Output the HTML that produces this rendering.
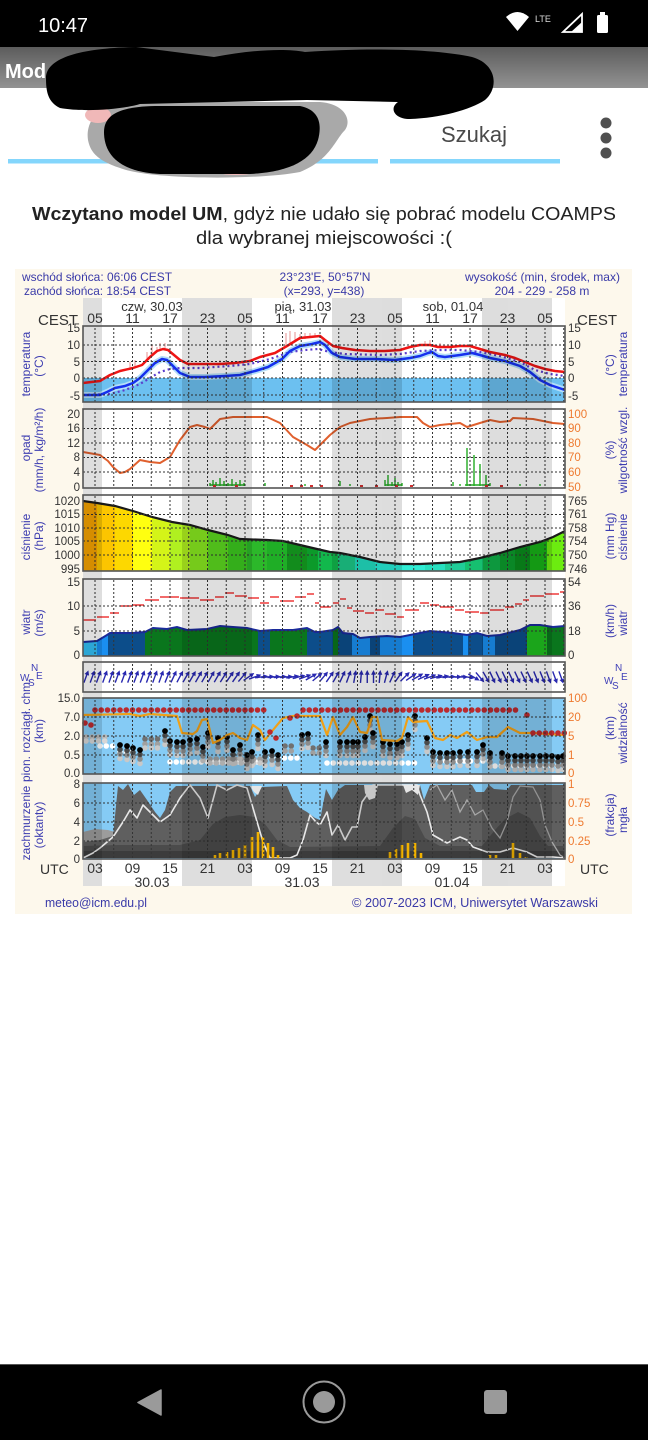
<!DOCTYPE html>
<html><head><meta charset="utf-8"><style>
html,body{margin:0;padding:0;background:#fff;width:648px;height:1440px;overflow:hidden}
svg{display:block}
text{font-family:"Liberation Sans",sans-serif}
.t{font-size:11.5px;fill:#333}
.o{font-size:11.5px;fill:#ee7a30}
.h{font-size:14px;fill:#333}
.b{font-size:12px;fill:#3c3cb0}
.c{font-size:10px;fill:#4040b8}
.hd{font-size:12px;fill:#3a3aa8}
</style></head><body>
<svg width="648" height="1440" viewBox="0 0 648 1440" xmlns="http://www.w3.org/2000/svg">
<defs>
<linearGradient id="ab" x1="0" y1="0" x2="0" y2="1"><stop offset="0" stop-color="#5c5c5c"/><stop offset="1" stop-color="#939393"/></linearGradient>
<pattern id="vg" x="94.5" y="0" width="18.75" height="4" patternUnits="userSpaceOnUse"><rect width="1" height="2" fill="#333"/></pattern>
<clipPath id="pc"><path d="M83,501 L97,503 L115,506 L133,511 L152,517 L172,522 L190,525 L208,530 L228,535 L240,539 L267,540 L283,541 L300,545 L317,549 L330,552 L340,553 L360,557 L380,562 L400,564 L420,564 L440,563 L460,562 L480,558 L500,553 L520,547 L540,542 L553,537 L565,531 L565,571 L83,571 Z"/></clipPath>
<clipPath id="wc"><path d="M83,642 L97,641 L107,635 L110,633 L133,633 L145,632 L153,628 L167,629 L177,627 L187,630 L207,629 L220,626 L233,627 L247,628 L260,631 L273,630 L293,630 L307,628 L315,632 L320,632 L333,630 L338,627 L343,633 L353,634 L360,638 L370,637 L387,636 L400,637 L420,633 L430,631 L453,633 L467,635 L477,633 L487,636 L500,635 L520,630 L530,625 L540,625 L553,627 L565,626 L565,656 L83,656 Z"/></clipPath>
<g id="ar"><path d="M0,6V-3" stroke="#2828b0" stroke-width="1.4"/><path d="M0,-7L-2.4,-2.3L2.4,-2.3Z" fill="#2828b0"/></g>
<g id="st"><circle cy="13.5" r="2.8" fill="#c8c8c8"/><circle cy="9" r="2.8" fill="#8c8c8c"/><circle cy="4.5" r="2.8" fill="#4a4a4a"/><circle r="2.9" fill="#000"/></g>
</defs>

<rect width="648" height="1440" fill="#fff"/>

<!-- status bar -->
<rect x="0" y="0" width="648" height="47" fill="#000"/>
<text x="38" y="32" font-size="20" fill="#fff">10:47</text>
<path d="M506,17 Q517.5,7 529,17 L517.5,31 Z" fill="#fff"/>
<text x="535" y="22" font-size="9" fill="#ddd">LTE</text>
<path d="M563,32 L582,32 L582,14 Z" fill="none" stroke="#fff" stroke-width="1.8"/>
<path d="M571,32 L582,32 L582,22 Z" fill="#fff"/>
<rect x="600" y="12" width="5" height="3" fill="#fff"/>
<rect x="597" y="15" width="11" height="18" rx="1.5" fill="#fff"/>

<!-- app bar -->
<rect x="0" y="47" width="648" height="41" fill="url(#ab)"/>
<text x="5" y="78" font-size="20" font-weight="bold" fill="#fff">Mod</text>

<!-- search area -->
<rect x="8" y="159" width="370" height="4.5" fill="#84d6fc"/>
<rect x="390" y="159" width="170" height="4.5" fill="#84d6fc"/>
<text x="441" y="142" font-size="22" fill="#4a4a4a">Szukaj</text>
<circle cx="606" cy="123" r="5.5" fill="#505050"/>
<circle cx="606" cy="138" r="5.5" fill="#505050"/>
<circle cx="606" cy="153" r="5.5" fill="#505050"/>

<!-- scribbles -->
<path d="M88,140 C85,120 100,104 130,102 L320,102 C345,104 352,120 345,130 C335,140 330,160 300,172 C260,180 150,180 120,168 C95,160 90,150 88,140 Z" fill="#a9a9a9"/>
<ellipse cx="98" cy="115" rx="13" ry="8" fill="#f0b8b8"/>
<ellipse cx="236" cy="170" rx="22" ry="5" fill="#f0b8b8"/>
<path d="M104,132 C104,112 125,106 160,106 L300,106 C320,110 322,125 318,140 C312,160 290,172 250,174 L160,174 C120,172 104,155 104,132 Z" fill="#000"/>
<path d="M46,78 C46,58 80,48 136,47 L214,57 C250,50 285,48 305,52 C380,47 440,50 472,57 C497,64 499,88 485,100 C470,110 440,118 410,119 C394,119 389,108 398,102 L307,100 L140,104 C120,110 82,112 60,108 C48,102 46,92 46,78 Z" fill="#000"/>

<!-- message -->
<text x="32" y="220" font-size="18" fill="#222" textLength="584" lengthAdjust="spacingAndGlyphs"><tspan font-weight="bold">Wczytano model UM</tspan>, gdyż nie udało się pobrać modelu COAMPS</text>
<text x="196" y="244" font-size="18" fill="#222" textLength="256" lengthAdjust="spacingAndGlyphs">dla wybranej miejscowości :(</text>

<!-- chart bg -->
<rect x="15" y="269" width="617" height="645" fill="#fdf8ec"/>
<rect x="83" y="298" width="482" height="588" fill="#fff"/>

<!-- header -->
<text class="hd" x="22" y="281" textLength="150" lengthAdjust="spacingAndGlyphs">wschód słońca: 06:06 CEST</text>
<text class="hd" x="24" y="295" textLength="147" lengthAdjust="spacingAndGlyphs">zachód słońca: 18:54 CEST</text>
<text class="hd" x="325" y="281" text-anchor="middle">23°23'E, 50°57'N</text>
<text class="hd" x="324" y="295" text-anchor="middle">(x=293, y=438)</text>
<text class="hd" x="465" y="281" textLength="155" lengthAdjust="spacingAndGlyphs">wysokość (min, środek, max)</text>
<text class="hd" x="542" y="295" text-anchor="middle">204 - 229 - 258 m</text>

<rect x="83" y="698" width="482" height="76" fill="#85cbf5"/>
<rect x="83" y="783" width="482" height="76" fill="#85cbf5"/>

<!-- P1 temperature -->
<rect x="83" y="378" width="482" height="24" fill="#6cc0f0"/>
<path d="M286,346V333M290,345V331M295,342V332M300,340V334M305,339V333M310,338V333M315,337V333M147,361V352M152,356V345M157,352V347M160,351V343M135,368V360M130,369V362M220,364V360M430,345V340M425,346V341M440,347V343M395,351V347M165,349V343" stroke="#e07878" stroke-width="1" opacity=".8"/>
<path d="M83,395 L100,395 L107,392 L115,388 L125,386 L133,383 L140,378 L148,370 L155,363 L162,359 L167,360 L173,366 L180,373 L190,377 L205,377 L225,376 L240,375 L255,371 L268,367 L282,359 L290,351 L300,346 L312,344 L320,342 L325,345 L332,353 L340,357 L355,359 L375,359 L395,360 L410,358 L420,356 L428,353 L432,352 L438,356 L445,357 L460,355 L472,353 L480,355 L490,358 L505,361 L520,366 L530,372 L540,380 L550,385 L565,390" fill="none" stroke="#b4def8" stroke-width="6" stroke-linejoin="round"/>
<path d="M83,395 L110,394 L125,390 L140,384 L150,378 L160,372 L170,369 L180,368 L200,368 L230,366 L250,364 L270,359 L290,352 L305,350 L318,349 L330,352 L345,354 L380,355 L400,354 L420,351 L440,350 L460,350 L480,352 L500,356 L520,362 L535,370 L550,374 L565,376" fill="none" stroke="#5a3ccc" stroke-width="2.2" stroke-dasharray="2 3"/>
<path d="M83,383 L100,381 L110,375 L120,371 L133,368 L142,365 L150,357 L157,351 L163,349 L168,350 L174,355 L180,360 L188,364 L200,364 L220,364 L235,363 L250,361 L260,357 L275,353 L287,346 L300,338 L310,337 L320,336 L325,340 L333,346 L342,348 L355,350 L370,351 L385,351 L400,350 L410,347 L420,345 L430,345 L438,347 L450,347 L460,346 L470,346 L480,349 L490,352 L505,355 L515,358 L525,362 L535,366 L545,369 L555,371 L565,372" fill="none" stroke="#ee1515" stroke-width="2.5" stroke-linejoin="round"/>
<path d="M83,395 L100,395 L107,392 L115,388 L125,386 L133,383 L140,378 L148,370 L155,363 L162,359 L167,360 L173,366 L180,373 L190,377 L205,377 L225,376 L240,375 L255,371 L268,367 L282,359 L290,351 L300,346 L312,344 L320,342 L325,345 L332,353 L340,357 L355,359 L375,359 L395,360 L410,358 L420,356 L428,353 L432,352 L438,356 L445,357 L460,355 L472,353 L480,355 L490,358 L505,361 L520,366 L530,372 L540,380 L550,385 L565,390" fill="none" stroke="#1530ee" stroke-width="2.5" stroke-linejoin="round"/>

<!-- P2 precipitation / humidity -->
<path d="M210,486V483M213,486V480M216,486V482M220,486V478M224,486V481M228,486V483M232,486V479M236,486V482M240,486V480M244,486V483M265,486V483M305,486V484M340,486V481M350,486V484M385,486V480M388,486V475M392,486V482M395,486V478M398,486V482M402,486V483M453,486V482M460,486V484M467,486V448M474,486V455M480,486V464M486,486V475M490,486V483M520,486V484M540,486V484" stroke="#22aa22" stroke-width="1.4"/>
<path d="M210,485H245M385,485H402M465,485H490" stroke="#22aa22" stroke-width="1.5"/>
<path d="M213,486H216M235,486H238M290,486H293M300,486H303M310,486H313M320,486H323M360,486H363M375,486H378M395,486H398M410,486H413M485,486H488M500,486H503" stroke="#d03030" stroke-width="2"/>
<path d="M83,452 L100,455 L108,461 L113,467 L120,473 L125,472 L130,469 L140,460 L150,462 L160,463 L170,457 L180,440 L190,427 L197,425 L205,427 L210,429 L220,419 L233,417 L253,417 L267,417 L280,423 L293,437 L307,445 L315,450 L320,445 L330,435 L340,427 L350,423 L370,419 L387,418 L400,417 L417,417 L423,423 L430,427 L440,425 L460,423 L467,427 L480,423 L490,420 L500,422 L510,421 L513,418 L533,419 L553,423 L565,424" fill="none" stroke="#e0602e" stroke-width="2" stroke-linejoin="round"/>

<!-- P3 pressure -->
<g clip-path="url(#pc)">
<rect x="83" y="495" width="14" height="76" fill="#f5a300"/>
<rect x="97" y="495" width="18" height="76" fill="#fcc500"/>
<rect x="115" y="495" width="18" height="76" fill="#fdd800"/>
<rect x="133" y="495" width="19" height="76" fill="#ffff10"/>
<rect x="152" y="495" width="18" height="76" fill="#d4f418"/>
<rect x="170" y="495" width="20" height="76" fill="#b0f020"/>
<rect x="190" y="495" width="18" height="76" fill="#88e820"/>
<rect x="208" y="495" width="20" height="76" fill="#5cd820"/>
<rect x="228" y="495" width="19" height="76" fill="#3cc820"/>
<rect x="247" y="495" width="20" height="76" fill="#2cb82a"/>
<rect x="267" y="495" width="20" height="76" fill="#1fae26"/>
<rect x="287" y="495" width="20" height="76" fill="#128c1c"/>
<rect x="307" y="495" width="11" height="76" fill="#0c9a2a"/>
<rect x="318" y="495" width="20" height="76" fill="#12b84c"/>
<rect x="338" y="495" width="17" height="76" fill="#1cc888"/>
<rect x="355" y="495" width="20" height="76" fill="#22dcc0"/>
<rect x="375" y="495" width="25" height="76" fill="#28ecd8"/>
<rect x="400" y="495" width="25" height="76" fill="#30ecd4"/>
<rect x="425" y="495" width="20" height="76" fill="#28e0c0"/>
<rect x="445" y="495" width="20" height="76" fill="#20cc98"/>
<rect x="465" y="495" width="18" height="76" fill="#16c070"/>
<rect x="483" y="495" width="17" height="76" fill="#10b048"/>
<rect x="500" y="495" width="15" height="76" fill="#0c9c2c"/>
<rect x="515" y="495" width="15" height="76" fill="#0a8c1c"/>
<rect x="530" y="495" width="17" height="76" fill="#18b018"/>
<rect x="547" y="495" width="18" height="76" fill="#6cec10"/>
</g>
<path d="M83,501 L97,503 L115,506 L133,511 L152,517 L172,522 L190,525 L208,530 L228,535 L240,539 L267,540 L283,541 L300,545 L317,549 L330,552 L340,553 L360,557 L380,562 L400,564 L420,564 L440,563 L460,562 L480,558 L500,553 L520,547 L540,542 L553,537 L565,531" fill="none" stroke="#1a1a1a" stroke-width="2.2"/>

<!-- P4 wind -->
<g clip-path="url(#wc)">
<rect x="83" y="600" width="14" height="56" fill="#33bff5"/>
<rect x="97" y="600" width="11" height="56" fill="#1a8ff0"/>
<rect x="108" y="600" width="37" height="56" fill="#0c4d8a"/>
<rect x="145" y="600" width="113" height="56" fill="#0a761d"/>
<rect x="258" y="600" width="12" height="56" fill="#0c4d8a"/>
<rect x="270" y="600" width="37" height="56" fill="#0a761d"/>
<rect x="307" y="600" width="26" height="56" fill="#0c4d8a"/>
<rect x="333" y="600" width="5" height="56" fill="#0a761d"/>
<rect x="338" y="600" width="14" height="56" fill="#0c4d8a"/>
<rect x="352" y="600" width="18" height="56" fill="#1a8ff0"/>
<rect x="370" y="600" width="10" height="56" fill="#0c4d8a"/>
<rect x="380" y="600" width="33" height="56" fill="#1a8ff0"/>
<rect x="413" y="600" width="50" height="56" fill="#0c4d8a"/>
<rect x="463" y="600" width="5" height="56" fill="#1a8ff0"/>
<rect x="468" y="600" width="15" height="56" fill="#0c4d8a"/>
<rect x="483" y="600" width="12" height="56" fill="#1a8ff0"/>
<rect x="495" y="600" width="32" height="56" fill="#0c4d8a"/>
<rect x="527" y="600" width="20" height="56" fill="#1fbe1f"/>
<rect x="547" y="600" width="18" height="56" fill="#0a761d"/>
</g>
<path d="M83,642 L97,641 L107,635 L110,633 L133,633 L145,632 L153,628 L167,629 L177,627 L187,630 L207,629 L220,626 L233,627 L247,628 L260,631 L273,630 L293,630 L307,628 L315,632 L320,632 L333,630 L338,627 L343,633 L353,634 L360,638 L370,637 L387,636 L400,637 L420,633 L430,631 L453,633 L467,635 L477,633 L487,636 L500,635 L520,630 L530,625 L540,625 L553,627 L565,626" fill="none" stroke="#1a2a9a" stroke-width="2"/>
<path d="M83,620H96M97,617H109M110,613H119M120,606H132M133,605H144M145,600H159M160,597H179M180,598H199M200,600H214M215,597H224M225,593H234M235,596H247M248,598H259M260,603H269M270,597H279M280,601H294M295,597H306M307,594H314M315,603H319M320,607H331M333,603H339M340,599H346M347,608H352M353,611H364M365,613H374M375,610H384M385,614H396M397,617H404M405,610H419M420,603H429M430,605H439M440,607H454M455,610H464M465,612H479M480,613H489M490,610H504M505,607H514M515,604H522M523,600H529M530,596H544M545,594H559M560,592H565" stroke="#ee3a3a" stroke-width="1.6" fill="none"/>

<!-- P5 wind direction -->
<use href="#ar" transform="translate(86,677) rotate(20)"/>
<use href="#ar" transform="translate(92.25,677) rotate(20)"/>
<use href="#ar" transform="translate(98.5,677) rotate(20)"/>
<use href="#ar" transform="translate(104.75,677) rotate(20)"/>
<use href="#ar" transform="translate(111,677) rotate(20)"/>
<use href="#ar" transform="translate(117.25,677) rotate(20)"/>
<use href="#ar" transform="translate(123.5,677) rotate(20)"/>
<use href="#ar" transform="translate(129.75,677) rotate(20)"/>
<use href="#ar" transform="translate(136,677) rotate(20)"/>
<use href="#ar" transform="translate(142.25,677) rotate(20)"/>
<use href="#ar" transform="translate(148.5,677) rotate(20)"/>
<use href="#ar" transform="translate(154.75,677) rotate(20)"/>
<use href="#ar" transform="translate(161,677) rotate(20)"/>
<use href="#ar" transform="translate(167.25,677) rotate(22)"/>
<use href="#ar" transform="translate(173.5,677) rotate(25)"/>
<use href="#ar" transform="translate(179.75,677) rotate(28)"/>
<use href="#ar" transform="translate(186,677) rotate(30)"/>
<use href="#ar" transform="translate(192.25,677) rotate(30)"/>
<use href="#ar" transform="translate(198.5,677) rotate(30)"/>
<use href="#ar" transform="translate(204.75,677) rotate(30)"/>
<use href="#ar" transform="translate(211,677) rotate(30)"/>
<use href="#ar" transform="translate(217.25,677) rotate(30)"/>
<use href="#ar" transform="translate(223.5,677) rotate(32)"/>
<use href="#ar" transform="translate(229.75,677) rotate(35)"/>
<use href="#ar" transform="translate(236,677) rotate(35)"/>
<use href="#ar" transform="translate(242.25,677) rotate(40)"/>
<use href="#ar" transform="translate(248.5,677) rotate(55)"/>
<use href="#ar" transform="translate(254.75,677) rotate(70)"/>
<use href="#ar" transform="translate(261,677) rotate(82)"/>
<use href="#ar" transform="translate(267.25,677) rotate(85)"/>
<use href="#ar" transform="translate(273.5,677) rotate(85)"/>
<use href="#ar" transform="translate(279.75,677) rotate(85)"/>
<use href="#ar" transform="translate(286,677) rotate(85)"/>
<use href="#ar" transform="translate(292.25,677) rotate(80)"/>
<use href="#ar" transform="translate(298.5,677) rotate(75)"/>
<use href="#ar" transform="translate(304.75,677) rotate(70)"/>
<use href="#ar" transform="translate(311,677) rotate(60)"/>
<use href="#ar" transform="translate(317.25,677) rotate(50)"/>
<use href="#ar" transform="translate(323.5,677) rotate(40)"/>
<use href="#ar" transform="translate(329.75,677) rotate(35)"/>
<use href="#ar" transform="translate(336,677) rotate(30)"/>
<use href="#ar" transform="translate(342.25,677) rotate(25)"/>
<use href="#ar" transform="translate(348.5,677) rotate(20)"/>
<use href="#ar" transform="translate(354.75,677) rotate(10)"/>
<use href="#ar" transform="translate(361,677) rotate(5)"/>
<use href="#ar" transform="translate(367.25,677) rotate(0)"/>
<use href="#ar" transform="translate(373.5,677) rotate(0)"/>
<use href="#ar" transform="translate(379.75,677) rotate(5)"/>
<use href="#ar" transform="translate(386,677) rotate(15)"/>
<use href="#ar" transform="translate(392.25,677) rotate(25)"/>
<use href="#ar" transform="translate(398.5,677) rotate(35)"/>
<use href="#ar" transform="translate(404.75,677) rotate(45)"/>
<use href="#ar" transform="translate(411,677) rotate(55)"/>
<use href="#ar" transform="translate(417.25,677) rotate(60)"/>
<use href="#ar" transform="translate(423.5,677) rotate(65)"/>
<use href="#ar" transform="translate(429.75,677) rotate(70)"/>
<use href="#ar" transform="translate(436,677) rotate(75)"/>
<use href="#ar" transform="translate(442.25,677) rotate(80)"/>
<use href="#ar" transform="translate(448.5,677) rotate(85)"/>
<use href="#ar" transform="translate(454.75,677) rotate(88)"/>
<use href="#ar" transform="translate(461,677) rotate(90)"/>
<use href="#ar" transform="translate(467.25,677) rotate(100)"/>
<use href="#ar" transform="translate(473.5,677) rotate(120)"/>
<use href="#ar" transform="translate(479.75,677) rotate(140)"/>
<use href="#ar" transform="translate(486,677) rotate(150)"/>
<use href="#ar" transform="translate(492.25,677) rotate(155)"/>
<use href="#ar" transform="translate(498.5,677) rotate(155)"/>
<use href="#ar" transform="translate(504.75,677) rotate(155)"/>
<use href="#ar" transform="translate(511,677) rotate(155)"/>
<use href="#ar" transform="translate(517.25,677) rotate(155)"/>
<use href="#ar" transform="translate(523.5,677) rotate(155)"/>
<use href="#ar" transform="translate(529.75,677) rotate(155)"/>
<use href="#ar" transform="translate(536,677) rotate(158)"/>
<use href="#ar" transform="translate(542.25,677) rotate(158)"/>
<use href="#ar" transform="translate(548.5,677) rotate(160)"/>
<use href="#ar" transform="translate(554.75,677) rotate(160)"/>
<use href="#ar" transform="translate(561,677) rotate(160)"/>

<!-- P6 clouds / visibility -->
<g fill="none" stroke-width="5.6" stroke-linecap="round" stroke-dasharray="0 6.25">
<path d="M86,737H110" stroke="#b8b8b8"/>
<path d="M86,741H110" stroke="#d6d6d6"/>
<path d="M100,746H113M120,752H135M170,762H265M272,758H300M327,763H420M433,761H490M495,766H565" stroke="#fff"/>
<path d="M145,739H160M285,746H297M313,748H320" stroke="#707070"/>
<path d="M145,744H160M285,751H297M210,759H265M313,753H320" stroke="#a0a0a0"/>
<path d="M145,748H160M210,763H265" stroke="#c8c8c8"/>
</g>
<use href="#st" x="120" y="745"/><use href="#st" x="127" y="746"/><use href="#st" x="133" y="748"/><use href="#st" x="140" y="750"/>
<use href="#st" x="165" y="731"/><use href="#st" x="170" y="741"/><use href="#st" x="177" y="742"/><use href="#st" x="183" y="742"/>
<use href="#st" x="190" y="740"/><use href="#st" x="197" y="739"/><use href="#st" x="203" y="747"/><use href="#st" x="208" y="733"/>
<use href="#st" x="218" y="738"/><use href="#st" x="227" y="737"/><use href="#st" x="233" y="750"/><use href="#st" x="240" y="745"/>
<use href="#st" x="247" y="755"/><use href="#st" x="252" y="752"/><use href="#st" x="258" y="735"/><use href="#st" x="265" y="752"/>
<use href="#st" x="272" y="751"/><use href="#st" x="278" y="755"/><use href="#st" x="302" y="735"/><use href="#st" x="308" y="734"/>
<use href="#st" x="326" y="742"/><use href="#st" x="340" y="742"/><use href="#st" x="347" y="742"/><use href="#st" x="353" y="742"/>
<use href="#st" x="358" y="742"/><use href="#st" x="365" y="737"/><use href="#st" x="370" y="716"/><use href="#st" x="373" y="733"/>
<use href="#st" x="383" y="742"/><use href="#st" x="390" y="744"/><use href="#st" x="397" y="744"/><use href="#st" x="402" y="742"/>
<use href="#st" x="408" y="735"/><use href="#st" x="415" y="716"/><use href="#st" x="427" y="738"/><use href="#st" x="433" y="752"/>
<use href="#st" x="440" y="753"/><use href="#st" x="447" y="753"/><use href="#st" x="453" y="753"/><use href="#st" x="460" y="752"/>
<use href="#st" x="468" y="752"/><use href="#st" x="477" y="752"/><use href="#st" x="483" y="745"/><use href="#st" x="490" y="753"/>
<use href="#st" x="502" y="753"/><use href="#st" x="508" y="756"/><use href="#st" x="515" y="756"/><use href="#st" x="521" y="756"/>
<use href="#st" x="527" y="756"/><use href="#st" x="533" y="756"/><use href="#st" x="540" y="756"/><use href="#st" x="546" y="756"/>
<use href="#st" x="552" y="756"/><use href="#st" x="558" y="757"/><use href="#st" x="563" y="756"/>
<path d="M83,715 L130,714 L140,716 L150,714 L177,716 L182,733 L193,734 L197,731 L202,720 L207,719 L213,743 L220,740 L227,735 L233,733 L240,738 L247,740 L253,725 L260,730 L265,740 L273,730 L283,718 L293,716 L320,716 L327,735 L333,717 L340,735 L347,727 L353,717 L360,732 L367,733 L372,717 L377,717 L382,740 L397,741 L402,738 L408,717 L413,722 L427,721 L435,738 L443,740 L450,735 L457,738 L467,732 L477,740 L487,737 L497,737 L508,727 L520,733 L533,733 L547,734 L565,735" fill="none" stroke="#f0a018" stroke-width="2.2" stroke-linejoin="round"/>
<path d="M95,710H265M303,710H520M533,733H565" fill="none" stroke="#bb2a2e" stroke-width="5.6" stroke-linecap="round" stroke-dasharray="0 6.25"/>
<g fill="#bb2a2e"><circle cx="85" cy="723" r="2.8"/><circle cx="91" cy="725" r="2.8"/><circle cx="270" cy="732" r="2.8"/><circle cx="276" cy="738" r="2.8"/><circle cx="290" cy="718" r="2.8"/><circle cx="297" cy="716" r="2.8"/><circle cx="527" cy="715" r="2.8"/></g>

<!-- P7 cloud cover -->
<path d="M83,858 L83,832 L95,829 L108,830 L115,832 L118,858 Z" fill="#9c9c9c"/>
<path d="M83,858 L83,842 L100,840 L113,836 L118,786 L123,790 L128,784 L134,795 L140,790 L147,800 L155,812 L160,818 L165,810 L170,792 L176,786 L250,786 L255,797 L262,787 L287,786 L293,800 L300,808 L307,812 L315,818 L320,820 L326,789 L332,800 L338,790 L345,785 L420,785 L424,800 L430,785 L472,785 L476,792 L484,792 L489,785 L494,789 L507,790 L511,785 L565,785 L565,858 Z" fill="#5f5f5f"/>
<path d="M83,858 L83,846 L118,845 L180,845 L200,840 L213,824 L225,817 L240,815 L255,817 L265,824 L277,840 L290,847 L380,846 L393,828 L405,816 L415,819 L425,838 L440,846 L482,846 L495,830 L505,819 L518,812 L530,818 L540,836 L548,846 L565,846 L565,858 Z" fill="#4b4b4b"/>
<rect x="83" y="851" width="482" height="7" fill="#3c3c3c"/>
<path d="M364,785 L378,785 L375,798 L369,800 L365,793 Z M403,785 L420,785 L418,795 L412,790 L406,793 Z M250,786 L262,786 L258,795 L254,792 Z" fill="#e6e6e6"/>
<path d="M430,790 L437,785 L445,800 L452,790 L460,812 L467,800 L475,815 L483,810 L492,828 L500,838 L507,822 L513,797 L520,786 L533,787 L540,800 L545,825 L552,842 L560,855 L565,858" fill="none" stroke="#a8a8a8" stroke-width="1.3"/>
<path d="M83,858 L93,853 L100,848 L113,837 L123,822 L130,810 L137,818 L143,805 L150,812 L160,822 L170,815 L180,798 L190,785 L200,798 L208,818 L217,785 L227,790 L237,785 L247,788 L253,808 L263,842 L270,858 L290,858 L297,855 L303,840 L310,815 L316,822 L320,825 L327,812 L332,835 L338,825 L345,840 L352,827 L357,827 L362,802 L367,795 L373,785 L417,785 L420,795 L427,812 L433,835 L447,843 L460,837 L467,840 L473,847 L487,852 L500,852 L513,848 L527,852 L537,857 L553,857 L565,858" fill="none" stroke="#e8e8e8" stroke-width="1.6" stroke-linejoin="round"/>
<path d="M215,858V855M220,858V853M227,858V852M233,858V850M239,858V848M245,858V845M252,858V837M258,858V832M263,858V837M268,858V843M273,858V847M278,858V855M390,858V852M396,858V849M402,858V845M408,858V843M415,858V843M421,858V853M490,858V855M496,858V855M513,858V843M520,858V853M526,858V857" stroke="#f2b200" stroke-width="2.6"/>

<!-- grids -->
<rect x="83" y="326" width="482" height="76" fill="url(#vg)"/>
<rect x="83" y="409" width="482" height="79" fill="url(#vg)"/>
<rect x="83" y="495" width="482" height="76" fill="url(#vg)"/>
<rect x="83" y="579" width="482" height="77" fill="url(#vg)"/>
<rect x="83" y="662" width="482" height="30" fill="url(#vg)"/>
<rect x="83" y="698" width="482" height="76" fill="url(#vg)"/>
<rect x="83" y="783" width="482" height="76" fill="url(#vg)"/>
<path d="M83,345H565M83,361.5H565M83,378H565M83,395H565M83,428.5H565M83,443H565M83,457.5H565M83,472H565M83,514.5H565M83,528H565M83,541H565M83,555H565M83,606H565M83,631H565M83,717H565M83,736H565M83,755H565M83,803H565M83,822H565M83,841H565" stroke="#333" stroke-width="1" stroke-dasharray="2 2" fill="none"/>

<!-- night overlay -->
<g fill="#000" opacity="0.13">
<rect x="83" y="298" width="19" height="588"/>
<rect x="182" y="298" width="70" height="588"/>
<rect x="332" y="298" width="70" height="588"/>
<rect x="482" y="298" width="70" height="588"/>
</g>

<!-- panel borders -->
<g fill="none" stroke="#555" stroke-width="1.6">
<rect x="83" y="326" width="482" height="76"/>
<rect x="83" y="409" width="482" height="79"/>
<rect x="83" y="495" width="482" height="76"/>
<rect x="83" y="579" width="482" height="77"/>
<rect x="83" y="662" width="482" height="30"/>
<rect x="83" y="698" width="482" height="76"/>
<rect x="83" y="783" width="482" height="76"/>
</g>

<!-- top time labels -->
<text x="152" y="311" font-size="13" fill="#333" text-anchor="middle">czw, 30.03</text>
<text x="303" y="311" font-size="13" fill="#333" text-anchor="middle">pią, 31.03</text>
<text x="453" y="311" font-size="13" fill="#333" text-anchor="middle">sob, 01.04</text>
<text x="38" y="325" font-size="15" fill="#333">CEST</text>
<text x="577" y="325" font-size="15" fill="#333">CEST</text>
<g class="h" text-anchor="middle">
<text x="95" y="323">05</text><text x="132.5" y="323">11</text><text x="170" y="323">17</text><text x="207.5" y="323">23</text>
<text x="245" y="323">05</text><text x="282.5" y="323">11</text><text x="320" y="323">17</text><text x="357.5" y="323">23</text>
<text x="395" y="323">05</text><text x="432.5" y="323">11</text><text x="470" y="323">17</text><text x="507.5" y="323">23</text>
<text x="545" y="323">05</text>
</g>

<!-- bottom time labels -->
<text x="40" y="874" font-size="14" fill="#333">UTC</text>
<text x="580" y="874" font-size="14" fill="#333">UTC</text>
<g class="h" text-anchor="middle">
<text x="95" y="873">03</text><text x="132.5" y="873">09</text><text x="170" y="873">15</text><text x="207.5" y="873">21</text>
<text x="245" y="873">03</text><text x="282.5" y="873">09</text><text x="320" y="873">15</text><text x="357.5" y="873">21</text>
<text x="395" y="873">03</text><text x="432.5" y="873">09</text><text x="470" y="873">15</text><text x="507.5" y="873">21</text>
<text x="545" y="873">03</text>
<text x="152" y="887">30.03</text><text x="302" y="887">31.03</text><text x="452" y="887">01.04</text>
</g>

<!-- left tick labels -->
<g class="t" text-anchor="end">
<text x="80" y="332">15</text><text x="80" y="349">10</text><text x="80" y="366">5</text><text x="80" y="382">0</text><text x="80" y="400">-5</text>
<text x="80" y="418">20</text><text x="80" y="432">16</text><text x="80" y="447">12</text><text x="80" y="461">8</text><text x="80" y="476">4</text><text x="80" y="491">0</text>
<text x="80" y="505">1020</text><text x="80" y="518">1015</text><text x="80" y="532">1010</text><text x="80" y="545">1005</text><text x="80" y="559">1000</text><text x="80" y="573">995</text>
<text x="80" y="586">15</text><text x="80" y="610">10</text><text x="80" y="635">5</text><text x="80" y="659">0</text>
<text x="80" y="702">15.0</text><text x="80" y="721">7.0</text><text x="80" y="740">2.0</text><text x="80" y="759">0.5</text><text x="80" y="777">0.0</text>
<text x="80" y="788">8</text><text x="80" y="807">6</text><text x="80" y="826">4</text><text x="80" y="845">2</text><text x="80" y="863">0</text>
</g>

<!-- right tick labels -->
<g class="t">
<text x="568" y="332">15</text><text x="568" y="349">10</text><text x="568" y="366">5</text><text x="568" y="382">0</text><text x="568" y="400">-5</text>
<text x="568" y="505">765</text><text x="568" y="518">761</text><text x="568" y="532">758</text><text x="568" y="545">754</text><text x="568" y="559">750</text><text x="568" y="573">746</text>
<text x="568" y="586">54</text><text x="568" y="610">36</text><text x="568" y="635">18</text><text x="568" y="659">0</text>
</g>
<g class="o">
<text x="568" y="418">100</text><text x="568" y="432">90</text><text x="568" y="447">80</text><text x="568" y="461">70</text><text x="568" y="476">60</text><text x="568" y="491">50</text>
<text x="568" y="702">100</text><text x="568" y="721">20</text><text x="568" y="740">5</text><text x="568" y="759">1</text><text x="568" y="777">0</text>
<text x="568" y="788">1</text><text x="568" y="807">0.75</text><text x="568" y="826">0.5</text><text x="568" y="845">0.25</text><text x="568" y="863">0</text>
</g>

<!-- left axis titles -->
<g class="b" text-anchor="middle">
<text transform="translate(30,364) rotate(-90)">temperatura</text>
<text transform="translate(43,366) rotate(-90)">(°C)</text>
<text transform="translate(30,448) rotate(-90)">opad</text>
<text transform="translate(43,450) rotate(-90)">(mm/h, kg/m²/h)</text>
<text transform="translate(30,537) rotate(-90)">ciśnienie</text>
<text transform="translate(43,536) rotate(-90)">(hPa)</text>
<text transform="translate(30,622) rotate(-90)">wiatr</text>
<text transform="translate(43,623) rotate(-90)">(m/s)</text>
<text transform="translate(43,731) rotate(-90)">(km)</text>
<text transform="translate(30,823) rotate(-90)">zachmurzenie</text>
<text transform="translate(43,825) rotate(-90)">(oktanty)</text>
</g>
<text class="b" transform="translate(30,782) rotate(-90)">pion. rozciągł. chm.</text>

<!-- right axis titles -->
<g class="b" text-anchor="middle">
<text transform="translate(614,365) rotate(-90)">(°C)</text>
<text transform="translate(627,364) rotate(-90)">temperatura</text>
<text transform="translate(614,450) rotate(-90)">(%)</text>
<text transform="translate(627,450) rotate(-90)">wilgotność wzgl.</text>
<text transform="translate(614,536) rotate(-90)">(mm Hg)</text>
<text transform="translate(627,537) rotate(-90)">ciśnienie</text>
<text transform="translate(614,621) rotate(-90)">(km/h)</text>
<text transform="translate(627,623) rotate(-90)">wiatr</text>
<text transform="translate(614,728) rotate(-90)">(km)</text>
<text transform="translate(627,733) rotate(-90)">widzialność</text>
<text transform="translate(614,815) rotate(-90)">(frakcja)</text>
<text transform="translate(627,820) rotate(-90)">mgła</text>
</g>

<!-- compass -->
<g class="c">
<text x="31" y="671">N</text><text x="20" y="681">W</text><text x="36" y="679">E</text><text x="28" y="686">S</text>
<text x="615" y="671">N</text><text x="604" y="684">W</text><text x="621" y="680">E</text><text x="612" y="689">S</text>
</g>

<!-- footer -->
<text x="45" y="907" font-size="12.5" fill="#3a3aa8" textLength="102" lengthAdjust="spacingAndGlyphs">meteo@icm.edu.pl</text>
<text x="352" y="907" font-size="12.5" fill="#3a3aa8" textLength="246" lengthAdjust="spacingAndGlyphs">© 2007-2023 ICM, Uniwersytet Warszawski</text>

<!-- nav bar -->
<rect x="0" y="1364" width="648" height="76" fill="#000"/>
<rect x="0" y="1364" width="648" height="1" fill="#555"/>
<path d="M161,1390 L161,1415 L138,1402.5 Z" fill="#9a9a9a" stroke="#9a9a9a" stroke-width="1.5" stroke-linejoin="round"/>
<circle cx="324" cy="1402" r="20.5" fill="none" stroke="#9a9a9a" stroke-width="2"/>
<circle cx="324" cy="1402" r="11" fill="#9a9a9a"/>
<rect x="484" y="1390" width="23" height="24" rx="3" fill="#9a9a9a"/>
</svg>
</body></html>
